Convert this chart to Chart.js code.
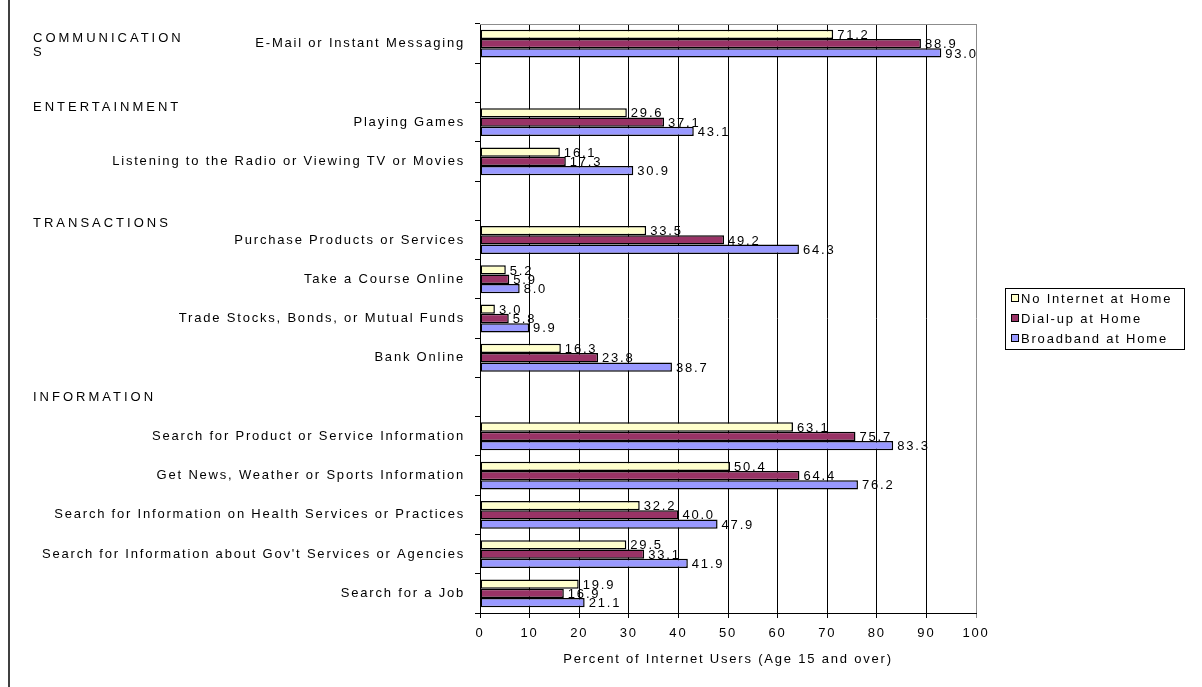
<!DOCTYPE html>
<html>
<head>
<meta charset="utf-8">
<script src="https://cdn.jsdelivr.net/npm/chart.js@4.4.1/dist/chart.umd.min.js"></script>
<style>
  html, body { margin: 0; padding: 0; background: #ffffff; }
  canvas { display: block; }
</style>
</head>
<body>
<canvas id="chart" width="1202" height="687"></canvas>
<script>
// Activities (empty entries are the spacer rows under each group heading)
const categories = [
  'E-Mail or Instant Messaging',
  '',
  'Playing Games',
  'Listening to the Radio or Viewing TV or Movies',
  '',
  'Purchase Products or Services',
  'Take a Course Online',
  'Trade Stocks, Bonds, or Mutual Funds',
  'Bank Online',
  '',
  'Search for Product or Service Information',
  'Get News, Weather or Sports Information',
  'Search for Information on Health Services or Practices',
  "Search for Information about Gov't Services or Agencies",
  'Search for a Job'
];

const noInternetAtHome = [71.2, null, 29.6, 16.1, null, 33.5, 5.2, 3.0, 16.3, null, 63.1, 50.4, 32.2, 29.5, 19.9];
const dialUpAtHome     = [88.9, null, 37.1, 17.3, null, 49.2, 5.9, 5.8, 23.8, null, 75.7, 64.4, 40.0, 33.1, 16.9];
const broadbandAtHome  = [93.0, null, 43.1, 30.9, null, 64.3, 8.0, 9.9, 38.7, null, 83.3, 76.2, 47.9, 41.9, 21.1];

const seriesNames = ['No Internet at Home', 'Dial-up at Home', 'Broadband at Home'];

// Group headings and the row each one belongs to
const groupHeadings = ['COMMUNICATION\nS', 'ENTERTAINMENT', 'TRANSACTIONS', 'INFORMATION'];
const groupHeadingRows = [0, 2, 5, 9];

const xTickValues = [0, 10, 20, 30, 40, 50, 60, 70, 80, 90, 100];
const xAxisTitle = 'Percent of Internet Users (Age 15 and over)';

const FONT_FAMILY = '"Liberation Sans", Arial, sans-serif';
const FONT_SIZE = 13;
const SPACING = '1.8px';
const HEADING_SPACING = '3px';

const palette = ['#FFFFCC', '#993366', '#9999FF'];

// Wide letter spacing for every text drawn on the canvas
const spacingPlugin = {
  id: 'spacing',
  beforeDraw(chart) { chart.ctx.letterSpacing = SPACING; }
};

// Value labels at the end of each bar
const valueLabels = {
  id: 'valueLabels',
  afterDatasetsDraw(chart) {
    const ctx = chart.ctx;
    ctx.save();
    ctx.font = FONT_SIZE + 'px ' + FONT_FAMILY;
    ctx.fillStyle = '#000';
    ctx.textAlign = 'left';
    ctx.textBaseline = 'middle';
    chart.data.datasets.forEach((ds, di) => {
      const meta = chart.getDatasetMeta(di);
      meta.data.forEach((bar, i) => {
        const v = ds.data[i];
        if (v === null || v === undefined) return;
        ctx.fillText(v.toFixed(1), bar.x + 4, bar.y + 1);
      });
    });
    ctx.restore();
  }
};

// Frame pieces, group headings and legend box
const decorations = {
  id: 'decorations',
  afterDraw(chart) {
    const ctx = chart.ctx;
    const area = chart.chartArea;
    const yScale = chart.scales.y;
    const rowH = yScale.getPixelForValue(1) - yScale.getPixelForValue(0);
    ctx.save();

    // plot area top edge (grey)
    ctx.strokeStyle = '#8c8c8c';
    ctx.lineWidth = 1;
    ctx.beginPath();
    ctx.moveTo(area.left, area.top + 0.5);
    ctx.lineTo(area.right + 0.5, area.top + 0.5);
    ctx.stroke();

    // outer chart border, left side
    ctx.strokeStyle = '#000';
    ctx.lineWidth = 1.5;
    ctx.beginPath();
    ctx.moveTo(9, 0);
    ctx.lineTo(9, chart.height);
    ctx.stroke();

    // group headings
    const headingShift = [-0.12, -0.38, -0.42, 0];
    ctx.font = FONT_SIZE + 'px ' + FONT_FAMILY;
    ctx.fillStyle = '#000';
    ctx.textAlign = 'left';
    ctx.textBaseline = 'middle';
    ctx.letterSpacing = HEADING_SPACING;
    groupHeadings.forEach((h, k) => {
      const y0 = yScale.getPixelForValue(groupHeadingRows[k]) + headingShift[k] * rowH;
      h.split('\n').forEach((line, li) => {
        ctx.fillText(line, 33, y0 + li * 14);
      });
    });
    ctx.letterSpacing = SPACING;

    // legend
    const lw = 179, lh = 61;
    const lx = area.right + 29;
    const ly = Math.round((area.top + area.bottom) / 2 - lh / 2);
    ctx.fillStyle = '#fff';
    ctx.fillRect(lx, ly, lw, lh);
    ctx.strokeStyle = '#000';
    ctx.lineWidth = 1;
    ctx.strokeRect(lx + 0.5, ly + 0.5, lw, lh);
    chart.data.datasets.forEach((ds, i) => {
      const cy = ly + 10 + i * 20;
      ctx.fillStyle = ds.backgroundColor;
      ctx.fillRect(lx + 6, cy - 4, 8, 8);
      ctx.strokeStyle = '#000';
      ctx.strokeRect(lx + 6.5, cy - 3.5, 7, 7);
      ctx.fillStyle = '#000';
      ctx.fillText(ds.label, lx + 16, cy + 1);
    });

    // x axis title
    ctx.textAlign = 'center';
    ctx.fillText(xAxisTitle, (area.left + area.right) / 2, area.bottom + 46);
    ctx.restore();
  }
};

const seriesData = [noInternetAtHome, dialUpAtHome, broadbandAtHome];

new Chart(document.getElementById('chart'), {
  type: 'bar',
  data: {
    labels: categories,
    datasets: seriesNames.map((name, i) => ({
      label: name,
      data: seriesData[i],
      backgroundColor: palette[i],
      borderColor: '#000',
      borderWidth: 1.5,
      borderSkipped: false,
      barPercentage: 1.0,
      categoryPercentage: 0.71
    }))
  },
  options: {
    indexAxis: 'y',
    responsive: false,
    animation: false,
    devicePixelRatio: 1,
    layout: { padding: { top: 24, right: 226, bottom: 0, left: 0 } },
    plugins: {
      legend: { display: false },
      tooltip: { enabled: false }
    },
    scales: {
      x: {
        min: 0,
        max: 100,
        afterBuildTicks(scale) { scale.ticks = xTickValues.map(v => ({ value: v })); },
        afterFit(scale) { scale.height = 687 - 613; },
        ticks: {
          color: '#000',
          font: { family: FONT_FAMILY, size: FONT_SIZE },
          padding: 8,
          maxRotation: 0
        },
        grid: {
          color: ctx => (ctx.tick && ctx.tick.value === 100 ? '#8c8c8c' : '#000'),
          lineWidth: 1,
          tickLength: 5,
          drawOnChartArea: true
        },
        border: { color: '#000', width: 1 }
      },
      y: {
        afterFit(scale) { scale.width = 480; },
        ticks: {
          color: '#000',
          font: { family: FONT_FAMILY, size: FONT_SIZE },
          padding: 10,
          autoSkip: false
        },
        grid: {
          drawOnChartArea: false,
          tickLength: 5,
          color: '#000'
        },
        border: { color: '#000', width: 1 }
      }
    }
  },
  plugins: [spacingPlugin, valueLabels, decorations]
});
</script>
</body>
</html>
